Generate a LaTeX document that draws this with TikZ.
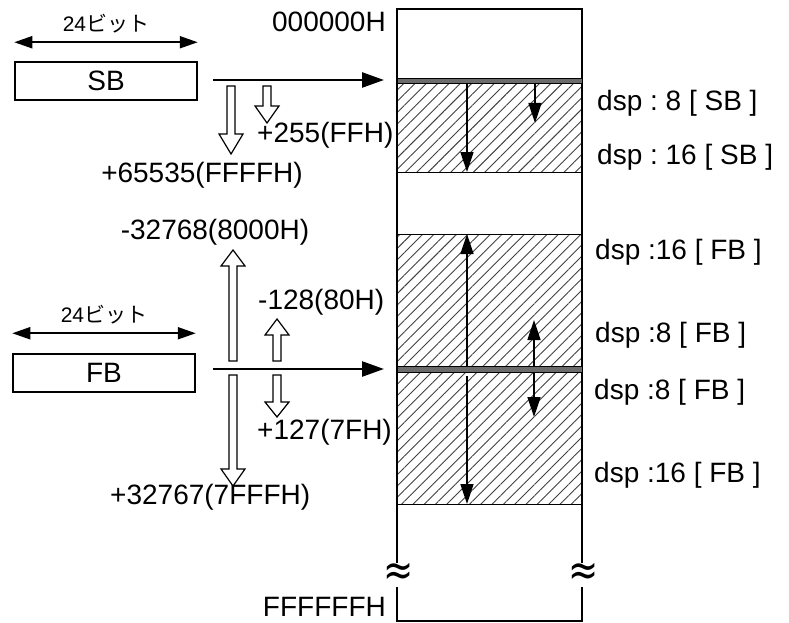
\documentclass[tikz,border=0pt]{standalone}
\usepackage{fontspec}
\setmainfont{Liberation Sans}
\newfontfamily\jpfont{Noto Sans CJK JP}
\newfontfamily\symfont{DejaVu Sans}
\usetikzlibrary{positioning,arrows.meta,patterns.meta}
\definecolor{barfill}{HTML}{6B6B6B}
\definecolor{hatch}{HTML}{404040}
\frenchspacing

% hollow block arrow: x, start, tip, head base
\newcommand{\hollowarrow}[4]{%
  \draw[hollow] ({#1-4},#2) -- ({#1-4},#4) -- ({#1-12},#4) -- (#1,#3)
    -- ({#1+12},#4) -- ({#1+4},#4) -- ({#1+4},#2) -- cycle;}

\begin{document}
\begin{tikzpicture}[
  x=1pt,y=-1pt,
  lbl/.style={font=\fontsize{28}{30}\selectfont,inner sep=0pt},
  bitlbl/.style={font=\fontsize{21}{24}\selectfont,inner sep=0pt},
  reg/.style={draw,line width=1.5pt,minimum width=182pt,minimum height=38pt,inner sep=0pt,font=\fontsize{28}{30}\selectfont},
  wall/.style={line width=1.5pt},
  ptr/.style={-{Triangle[length=22pt,width=15pt]},line width=2.5pt},
  span/.style={{Triangle[length=18pt,width=12pt]}-{Triangle[length=18pt,width=12pt]},line width=2pt},
  disp/.style={-{Triangle[length=20pt,width=13pt]},line width=1.6pt},
  hollow/.style={line width=1.2pt,fill=white},
  hatched/.style={pattern={Lines[angle=45,distance=8pt,line width=0.9pt]},pattern color=hatch},
  gbar/.style={fill=barfill,draw=black,line width=0.6pt},
  brk/.style={font=\symfont\fontsize{30}{30}\selectfont,inner sep=0pt,xscale=1.2,yscale=1.5}
]
\useasboundingbox (0,0) rectangle (789,623);

% registers
\node[reg] (sbreg) at (106,81) {SB};
\node[reg] (fbreg) at (104,373) {FB};
\draw[span] ([yshift=19pt]sbreg.north west) -- ([yshift=19pt]sbreg.north east)
  node[bitlbl,midway,above=8pt] (sbbits) {24{\jpfont ビット}};
\draw[span] ([yshift=20pt]fbreg.north west) -- ([yshift=20pt]fbreg.north east)
  node[bitlbl,midway,above=8pt] (fbbits) {24{\jpfont ビット}};

% memory
\fill[hatched] (397,83) rectangle (582,172);
\fill[hatched] (397,234) rectangle (582,504);
\draw[wall] (397,563) -- (397,9) -- (582,9) -- (582,563);
\draw[wall] (397,587) -- (397,621) -- (582,621) -- (582,587);
\node[brk] (brkl) at (399,574) {≈};
\node[brk] (brkr) at (584,574) {≈};
\draw[line width=1pt] (397,172) -- (582,172);
\draw[line width=1pt] (397,234) -- (582,234);
\draw[line width=1pt] (397,504) -- (582,504);
\draw[gbar] (397,78) rectangle (582,83);
\draw[gbar] (397,366) rectangle (582,372);

\node[lbl,anchor=east] (lo) at (386,22) {000000H};
\node[lbl,anchor=east] (hi) at (386,607) {FFFFFFH};

% base pointers
\coordinate (sbsrc) at (213,80);
\coordinate (sbdst) at (384,80);
\coordinate (fbsrc) at (213,369);
\coordinate (fbdst) at (384,369);
\draw[ptr] (sbsrc) -- (sbdst);
\draw[ptr] (fbsrc) -- (fbdst);

% ranges
\hollowarrow{231}{86}{154}{134}
\hollowarrow{267}{86}{123}{106}
\hollowarrow{233}{361}{250}{266}
\hollowarrow{277}{361}{319}{335}
\hollowarrow{233}{375}{486}{469}
\hollowarrow{277}{375}{417}{402}
\node[lbl,anchor=west] (sb8) at (257,135) {+255(FFH)};
\node[lbl] (sb16) at (202,175) {+65535(FFFFH)};
\node[lbl] (fbm16) at (215,232) {-32768(8000H)};
\node[lbl,anchor=west] (fbm8) at (258,302) {-128(80H)};
\node[lbl,anchor=west] (fbp8) at (257,432) {+127(7FH)};
\node[lbl,anchor=west] (fbp16) at (110,497) {+32767(7FFFH)};

% displacements
\draw[disp] (467,83) -- (467,172);
\draw[disp] (535,83) -- (535,123);
\draw[disp] (467,366) -- (467,234);
\draw[disp] (534,366) -- (534,320);
\draw[disp] (467,376) -- (467,504);
\draw[disp] (534,372) -- (534,417);

\node[lbl,anchor=west] (d1) at (597,103) {dsp : 8 [ SB ]};
\node[lbl,anchor=west] (d2) at (597,157) {dsp : 16 [ SB ]};
\node[lbl,anchor=west] (d3) at (595,252) {dsp :16 [ FB ]};
\node[lbl,anchor=west] (d4) at (595,335) {dsp :8 [ FB ]};
\node[lbl,anchor=west] (d5) at (594,392) {dsp :8 [ FB ]};
\node[lbl,anchor=west] (d6) at (594,475) {dsp :16 [ FB ]};
\end{tikzpicture}
\end{document}
